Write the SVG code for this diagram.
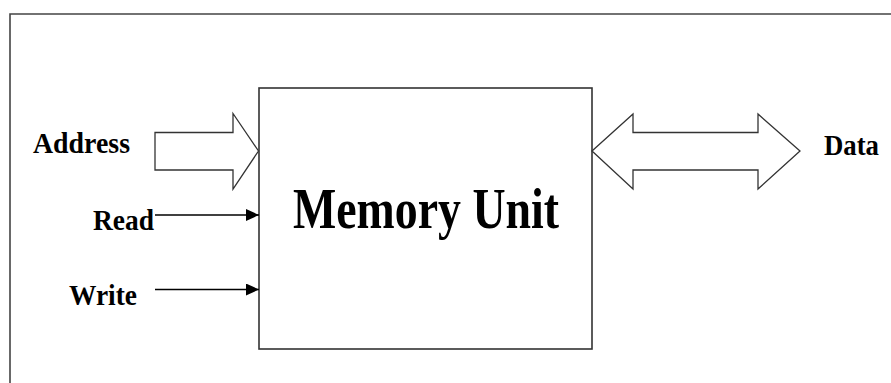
<svg xmlns="http://www.w3.org/2000/svg" width="891" height="383" viewBox="0 0 891 383">
<style>
.lbl{font-family:"Liberation Serif","Times New Roman",serif;font-weight:bold;fill:#000}
.frame{fill:none;stroke:#444;stroke-width:1.6}
.shape{fill:#fff;stroke:#333;stroke-width:1.3;stroke-linejoin:miter}
.wire{stroke:#000;stroke-width:1.5;fill:none}
</style>
<defs>
<marker id="ah" viewBox="0 0 13 12" refX="13" refY="6" markerWidth="13" markerHeight="12" markerUnits="userSpaceOnUse" orient="auto">
<path d="M0,0 L13,6 L0,12 z" fill="#000"/>
</marker>
</defs>
<rect width="891" height="383" fill="#fff"/>
<path class="frame" d="M10,383 V14 H891"/>
<g id="memory-unit">
<rect x="259" y="88" width="333" height="261" fill="#fff" stroke="#333" stroke-width="1.6"/>
<text class="lbl" x="293" y="228" font-size="57" textLength="266" lengthAdjust="spacingAndGlyphs">Memory Unit</text>
</g>
<g id="address">
<text class="lbl" x="33" y="153" font-size="29" textLength="97" lengthAdjust="spacingAndGlyphs">Address</text>
</g>
<g id="read">
<text class="lbl" x="93" y="230" font-size="29" textLength="61" lengthAdjust="spacingAndGlyphs">Read</text>
</g>
<g id="write">
<text class="lbl" x="69" y="305" font-size="29" textLength="68" lengthAdjust="spacingAndGlyphs">Write</text>
</g>
<g id="data">
<text class="lbl" x="824" y="155" font-size="29" textLength="55" lengthAdjust="spacingAndGlyphs">Data</text>
</g>
<g id="connectors">
<path class="shape" d="M155,132.5 H233 V113.5 L258.5,151 L233,189 V170 H155 Z"/>
<path class="shape" d="M592,151 L633,114 V132.5 H758 V114 L800,151 L758,189 V170 H633 V189 Z"/>
<line class="wire" x1="155" y1="215" x2="259" y2="215" marker-end="url(#ah)"/>
<line class="wire" x1="155" y1="289.5" x2="259" y2="289.5" marker-end="url(#ah)"/>
</g>
</svg>
